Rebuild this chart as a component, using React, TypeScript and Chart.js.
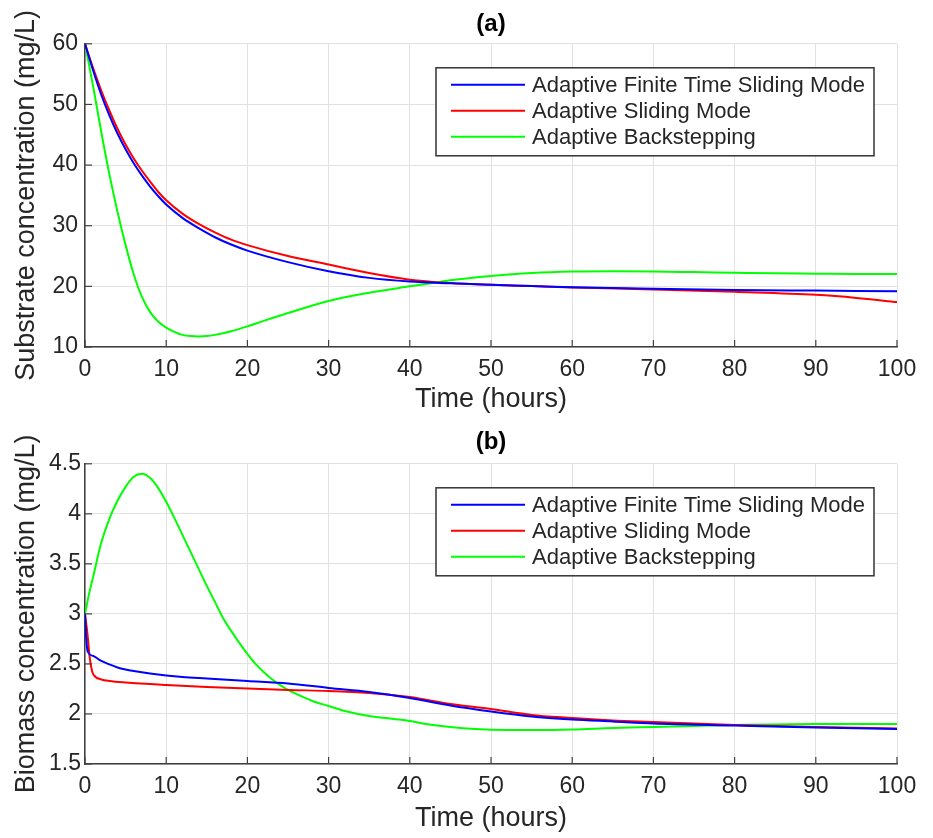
import React, { useEffect, useRef } from 'react';
import Chart from 'chart.js/auto';

// ---------- shared ----------
const SERIES_LABELS = [
  'Adaptive Finite Time Sliding Mode',
  'Adaptive Sliding Mode',
  'Adaptive Backstepping',
];
const SERIES_COLORS = ['#0000ff', '#ff0000', '#00ff00'];
const X_TITLE = 'Time (hours)';

// ---------- (a) substrate ----------
const substrateTitle = '(a)';
const substrateYLabel = 'Substrate concentration (mg/L)';
const substrateYRange = [10, 60];
const substrateYStep = 10;

const substrateAftsmTime = [0, 1, 2, 3, 4, 5, 6, 7, 8, 9, 10, 12, 14, 16, 18, 20, 25, 30, 35, 40, 45, 50, 55, 60, 70, 80, 90, 100];
const substrateAftsm = [60, 55.6, 51.6, 48.2, 45.2, 42.6, 40.3, 38.3, 36.5, 34.9, 33.5, 31.3, 29.6, 28.1, 26.9, 25.9, 24.0, 22.5, 21.4, 20.8, 20.5, 20.25, 20.05, 19.85, 19.6, 19.4, 19.3, 19.2];

const substrateAsmTime = [0, 1, 2, 3, 4, 5, 6, 7, 8, 9, 10, 12, 14, 16, 18, 20, 25, 30, 35, 40, 45, 50, 55, 60, 70, 80, 90, 95, 100];
const substrateAsm = [60, 56.0, 52.3, 49.0, 46.0, 43.4, 41.1, 39.1, 37.3, 35.6, 34.2, 32.0, 30.3, 28.9, 27.7, 26.8, 25.0, 23.6, 22.2, 21.1, 20.55, 20.25, 20.05, 19.8, 19.5, 19.1, 18.6, 18.1, 17.4];

const substrateAbTime = [0, 1, 2, 3, 4, 5, 6, 7, 8, 9, 10, 11, 12, 13, 14, 15, 16, 18, 20, 22, 25, 30, 35, 40, 43, 45, 50, 55, 60, 65, 70, 75, 80, 85, 90, 95, 100];
const substrateAb = [60, 53, 45.5, 38.5, 32.3, 26.8, 22.0, 18.3, 15.8, 14.2, 13.2, 12.5, 12.0, 11.8, 11.75, 11.8, 12.0, 12.6, 13.4, 14.3, 15.6, 17.6, 18.95, 20.0, 20.6, 21.0, 21.7, 22.2, 22.45, 22.5, 22.45, 22.35, 22.25, 22.15, 22.1, 22.05, 22.05];

// ---------- (b) biomass ----------
const biomassTitle = '(b)';
const biomassYLabel = 'Biomass concentration (mg/L)';
const biomassYRange = [1.5, 4.5];
const biomassYStep = 0.5;

const biomassAftsmTime = [0, 0.15, 0.35, 1, 2, 3, 4, 5, 6, 8, 10, 12, 15, 20, 25, 30, 35, 40, 45, 50, 55, 60, 65, 70, 80, 90, 100];
const biomassAftsm = [3.0, 2.75, 2.62, 2.58, 2.53, 2.495, 2.465, 2.445, 2.43, 2.405, 2.385, 2.37, 2.355, 2.33, 2.305, 2.26, 2.22, 2.16, 2.085, 2.025, 1.975, 1.945, 1.925, 1.905, 1.885, 1.865, 1.85];

const biomassAsmTime = [0, 0.3, 0.6, 0.9, 1.3, 2, 3, 5, 10, 15, 20, 25, 30, 35, 40, 45, 50, 55, 60, 65, 70, 80, 90, 100];
const biomassAsm = [3.0, 2.8, 2.55, 2.42, 2.37, 2.345, 2.33, 2.315, 2.29, 2.27, 2.255, 2.24, 2.23, 2.21, 2.17, 2.1, 2.05, 1.99, 1.96, 1.935, 1.92, 1.89, 1.87, 1.855];

const biomassAbTime = [0, 0.5, 1, 2, 3, 4, 5, 6, 7, 8, 9, 10, 11, 12, 13, 14, 15, 16, 17, 18, 19, 20, 21, 22, 23, 24, 25, 26, 28, 30, 32, 35, 38, 40, 42, 45, 48, 52, 55, 60, 65, 70, 75, 80, 90, 100];
const biomassAb = [3.0, 3.2, 3.37, 3.71, 3.95, 4.13, 4.27, 4.37, 4.4, 4.36, 4.26, 4.12, 3.96, 3.79, 3.62, 3.45, 3.28, 3.12, 2.96, 2.83, 2.71, 2.6, 2.5, 2.42, 2.35, 2.29, 2.24, 2.2, 2.13, 2.08, 2.03, 1.98, 1.95, 1.93, 1.9, 1.87, 1.85, 1.84, 1.84, 1.845, 1.86, 1.87, 1.88, 1.89, 1.9, 1.9];

const FONT = "'Liberation Sans', Arial, Helvetica, sans-serif";
const TEXT_COLOR = '#262626';
const AXIS_COLOR = '#404040';
const GRID_COLOR = '#e2e2e2';

const toPoints = (t: number[], v: number[]) => t.map((x, i) => ({ x, y: v[i] }));

const matlabDecor = {
  id: 'matlabDecor',
  afterDraw(chart: any) {
    const { ctx, chartArea: ca, scales } = chart;
    const x = scales.x;
    const y = scales.y;
    ctx.save();
    // inward tick marks
    ctx.strokeStyle = AXIS_COLOR;
    ctx.lineWidth = 1.2;
    x.ticks.forEach((t: any) => {
      const px = x.getPixelForValue(t.value);
      ctx.beginPath();
      ctx.moveTo(px, ca.bottom);
      ctx.lineTo(px, ca.bottom - 7);
      ctx.stroke();
    });
    y.ticks.forEach((t: any) => {
      const py = y.getPixelForValue(t.value);
      ctx.beginPath();
      ctx.moveTo(ca.left, py);
      ctx.lineTo(ca.left + 7, py);
      ctx.stroke();
    });
    // legend box
    ctx.font = `22px ${FONT}`;
    const labels = chart.data.datasets.map((d: any) => d.label);
    const textW = Math.max(...labels.map((l: string) => ctx.measureText(l).width));
    const boxW = 15 + 74 + 7 + textW + 9;
    const boxRight = ca.right - 23;
    const boxLeft = boxRight - boxW;
    const boxTop = ca.top + 24;
    const boxH = 88;
    ctx.fillStyle = '#ffffff';
    ctx.fillRect(boxLeft, boxTop, boxW, boxH);
    ctx.strokeStyle = '#333333';
    ctx.lineWidth = 1.5;
    ctx.strokeRect(boxLeft, boxTop, boxW, boxH);
    ctx.textBaseline = 'middle';
    ctx.textAlign = 'left';
    chart.data.datasets.forEach((d: any, i: number) => {
      const ry = boxTop + 17 + i * 26;
      ctx.strokeStyle = d.borderColor;
      ctx.lineWidth = 2;
      ctx.beginPath();
      ctx.moveTo(boxLeft + 15, ry);
      ctx.lineTo(boxLeft + 89, ry);
      ctx.stroke();
      ctx.fillStyle = TEXT_COLOR;
      ctx.fillText(d.label, boxLeft + 96, ry + 1);
    });
    ctx.restore();
  },
};

type PanelProps = {
  title: string;
  yLabel: string;
  yRange: number[];
  yStep: number;
  series: { t: number[]; v: number[] }[];
  titlePad: { top: number; bottom: number };
  xAxisHeight: number;
  yTickPad: number;
  top: number;
};

function Panel(p: PanelProps) {
  const ref = useRef<HTMLCanvasElement>(null);
  useEffect(() => {
    if (!ref.current) return;
    const chart = new Chart(ref.current, {
      type: 'line',
      data: {
        datasets: p.series.map((s, i) => ({
          label: SERIES_LABELS[i],
          data: toPoints(s.t, s.v),
          borderColor: SERIES_COLORS[i],
          backgroundColor: SERIES_COLORS[i],
          borderWidth: 2,
          pointRadius: 0,
          fill: false,
          cubicInterpolationMode: 'monotone',
        })),
      },
      options: {
        animation: false,
        responsive: false,
        devicePixelRatio: 1,
        layout: { padding: { left: 0, right: 36, top: 0, bottom: 0 } },
        plugins: {
          legend: { display: false },
          tooltip: { enabled: false },
          title: {
            display: true,
            text: p.title,
            fullSize: false,
            color: '#000',
            font: { family: FONT, size: 24, weight: 'bold' },
            padding: p.titlePad,
          },
        },
        scales: {
          x: {
            type: 'linear',
            min: 0,
            max: 100,
            ticks: { stepSize: 10, color: TEXT_COLOR, font: { family: FONT, size: 23 }, padding: 9, maxRotation: 0 },
            grid: { color: GRID_COLOR, drawTicks: false, lineWidth: 1 },
            border: { display: true, color: AXIS_COLOR, width: 1.5 },
            title: { display: true, text: X_TITLE, color: TEXT_COLOR, font: { family: FONT, size: 27 }, padding: { top: 0, bottom: 3 } },
            afterFit: (scale: any) => { scale.height = p.xAxisHeight; },
          },
          y: {
            type: 'linear',
            min: p.yRange[0],
            max: p.yRange[1],
            ticks: {
              stepSize: p.yStep,
              color: TEXT_COLOR,
              font: { family: FONT, size: 23 },
              padding: p.yTickPad,
              callback: (v: any) => String(Number(v)),
            },
            grid: { color: GRID_COLOR, drawTicks: false, lineWidth: 1 },
            border: { display: true, color: AXIS_COLOR, width: 1.5 },
            title: { display: true, text: p.yLabel, color: TEXT_COLOR, font: { family: FONT, size: 27 }, padding: { top: 10, bottom: 0 } },
            afterFit: (scale: any) => { scale.width = 85; },
          },
        },
      } as any,
      plugins: [matlabDecor],
    });
    return () => chart.destroy();
  }, []);
  return (
    <canvas
      ref={ref}
      width={933}
      height={419}
      style={{ position: 'absolute', left: 0, top: p.top, width: 933, height: 419 }}
    />
  );
}

export default function App() {
  return (
    <div style={{ position: 'absolute', left: 0, top: 0, width: 933, height: 838, background: '#fff' }}>
      <Panel
        title={substrateTitle}
        yLabel={substrateYLabel}
        yRange={substrateYRange}
        yStep={substrateYStep}
        series={[
          { t: substrateAftsmTime, v: substrateAftsm },
          { t: substrateAsmTime, v: substrateAsm },
          { t: substrateAbTime, v: substrateAb },
        ]}
        titlePad={{ top: 10, bottom: 5 }}
        xAxisHeight={72}
        yTickPad={7}
        top={0}
      />
      <Panel
        title={biomassTitle}
        yLabel={biomassYLabel}
        yRange={biomassYRange}
        yStep={biomassYStep}
        series={[
          { t: biomassAftsmTime, v: biomassAftsm },
          { t: biomassAsmTime, v: biomassAsm },
          { t: biomassAbTime, v: biomassAb },
        ]}
        titlePad={{ top: 9, bottom: 7 }}
        xAxisHeight={74}
        yTickPad={4}
        top={419}
      />
    </div>
  );
}
